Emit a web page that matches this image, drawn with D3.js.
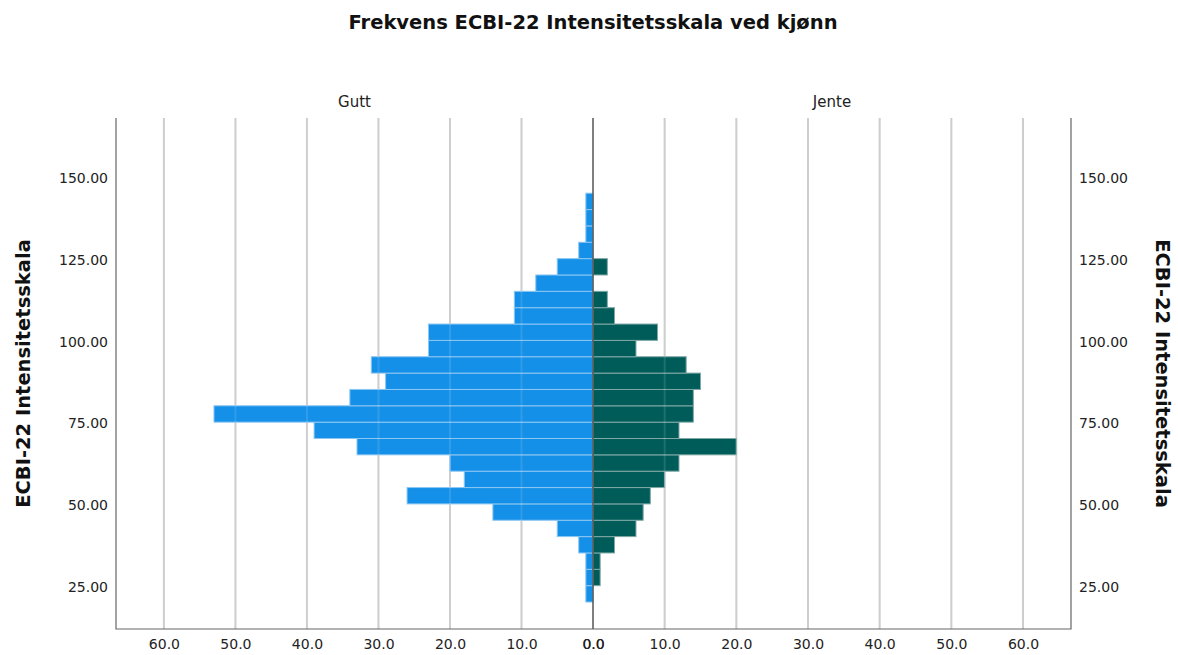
<!DOCTYPE html>
<html>
<head>
<meta charset="utf-8">
<script src="https://cdn.jsdelivr.net/npm/d3@7"></script>
<style>
  body { margin: 0; background: #fff; }
  svg { display: block; font-family: 'DejaVu Sans', sans-serif; }
</style>
</head>
<body>
<div id="chart"></div>
<script>
// Population pyramid - ECBI-22 by gender
// Lower edge of each score bin (width 5)
let binLower = [20.4, 25.4, 30.4, 35.4, 40.4, 45.4, 50.4, 55.4, 60.4, 65.4, 70.4, 75.4, 80.4,
  85.4, 90.4, 95.4, 100.4, 105.4, 110.4, 115.4, 120.4, 125.4, 130.4, 135.4, 140.4];
let binWidth = 5;
// Counts per bin, from lowest score to highest
let gutt = [1, 1, 1, 2, 5, 14, 26, 18, 20, 33, 39, 53, 34, 29, 31, 23, 23, 11, 11, 8, 5, 2, 1, 1, 1];
let jente = [0, 1, 1, 3, 6, 7, 8, 10, 12, 20, 12, 14, 14, 15, 13, 6, 9, 3, 2, 0, 2, 0, 0, 0, 0];
let yTicks = [25, 50, 75, 100, 125, 150];
let xTicks = [0, 10, 20, 30, 40, 50, 60];

let svgwidth = 1178;
let svgheight = 655;
let pLeft = 116, pRight = 1071, pTop = 118, pBottom = 629;
let mid = 593;

let svg = d3.select('#chart')
  .append('svg')
  .attr('width', svgwidth)
  .attr('height', svgheight);

let yscale = d3.scaleLinear().domain([12.15, 168.4]).range([pBottom, pTop]);
let xleft = d3.scaleLinear().domain([0, 66.7]).range([mid, pLeft]);
let xright = d3.scaleLinear().domain([0, 66.7]).range([mid, pRight]);

// Title
svg.append('text')
  .text('Frekvens ECBI-22 Intensitetsskala ved kjønn')
  .attr('x', mid)
  .attr('y', 29)
  .attr('text-anchor', 'middle')
  .attr('font-size', 19.5)
  .attr('font-weight', 'bold')
  .attr('fill', '#111');

// Panel labels
svg.append('text').text('Gutt')
  .attr('x', (pLeft + mid) / 2).attr('y', 107)
  .attr('text-anchor', 'middle').attr('font-size', 15).attr('fill', '#222');
svg.append('text').text('Jente')
  .attr('x', (mid + pRight) / 2).attr('y', 107)
  .attr('text-anchor', 'middle').attr('font-size', 15).attr('fill', '#222');

// Gridlines
let grid = svg.append('g');
[xleft, xright].forEach(function (sc) {
  grid.append('g').selectAll('line')
    .data(xTicks.filter((d) => d > 0))
    .join('line')
    .attr('x1', (d) => sc(d))
    .attr('x2', (d) => sc(d))
    .attr('y1', pTop)
    .attr('y2', pBottom)
    .attr('stroke', '#c8c8c8')
    .attr('stroke-width', 2);
});

// Bars
svg.append('g')
  .selectAll('rect')
  .data(gutt)
  .join('rect')
  .attr('x', (d) => xleft(d))
  .attr('width', (d) => xleft(0) - xleft(d))
  .attr('y', (d, i) => yscale(binLower[i] + binWidth))
  .attr('height', (d, i) => yscale(binLower[i]) - yscale(binLower[i] + binWidth))
  .attr('fill', '#1490e8')
  .attr('stroke', '#8cc6f2')
  .attr('stroke-width', 1)
  .style('display', (d) => (d > 0 ? null : 'none'));

svg.append('g')
  .selectAll('rect')
  .data(jente)
  .join('rect')
  .attr('x', xright(0))
  .attr('width', (d) => xright(d) - xright(0))
  .attr('y', (d, i) => yscale(binLower[i] + binWidth))
  .attr('height', (d, i) => yscale(binLower[i]) - yscale(binLower[i] + binWidth))
  .attr('fill', '#005c59')
  .attr('stroke', '#7fa8a6')
  .attr('stroke-width', 1)
  .style('display', (d) => (d > 0 ? null : 'none'));

// faint gridlines showing through bars
[xleft, xright].forEach(function (sc) {
  svg.append('g').selectAll('line')
    .data(xTicks.filter((d) => d > 0))
    .join('line')
    .attr('x1', (d) => sc(d))
    .attr('x2', (d) => sc(d))
    .attr('y1', pTop)
    .attr('y2', pBottom)
    .attr('stroke', '#ffffff')
    .attr('stroke-opacity', 0.12)
    .attr('stroke-width', 2);
});

// Zero line and frame
svg.append('line')
  .attr('x1', mid).attr('x2', mid).attr('y1', pTop).attr('y2', pBottom)
  .attr('stroke', '#555').attr('stroke-width', 1.5);
svg.append('path')
  .attr('d', `M${pLeft},${pTop}V${pBottom}H${pRight}V${pTop}`)
  .attr('fill', 'none')
  .attr('stroke', '#666')
  .attr('stroke-width', 1.2);

// X axes
let xaxisL = d3.axisBottom(xleft).tickValues(xTicks).tickFormat(d3.format('.1f')).tickSize(0).tickPadding(10);
let xaxisR = d3.axisBottom(xright).tickValues(xTicks).tickFormat(d3.format('.1f')).tickSize(0).tickPadding(10);
[xaxisL, xaxisR].forEach(function (ax) {
  svg.append('g')
    .attr('transform', `translate(0, ${pBottom})`)
    .call(ax)
    .call((g) => g.select('.domain').remove())
    .selectAll('text')
    .attr('font-size', 14)
    .attr('fill', '#222')
    .attr('font-family', 'DejaVu Sans');
});

// Y axes
svg.append('g')
  .attr('transform', `translate(${pLeft}, 0)`)
  .call(d3.axisLeft(yscale).tickValues(yTicks).tickFormat(d3.format('.2f')).tickSize(0).tickPadding(8))
  .call((g) => g.select('.domain').remove())
  .selectAll('text')
  .attr('font-size', 14)
  .attr('fill', '#222')
  .attr('font-family', 'DejaVu Sans');

svg.append('g')
  .attr('transform', `translate(${pRight}, 0)`)
  .call(d3.axisRight(yscale).tickValues(yTicks).tickFormat(d3.format('.2f')).tickSize(0).tickPadding(8))
  .call((g) => g.select('.domain').remove())
  .selectAll('text')
  .attr('font-size', 14)
  .attr('fill', '#222')
  .attr('font-family', 'DejaVu Sans');

// Y axis titles
let ymid = (pTop + pBottom) / 2;
svg.append('text')
  .text('ECBI-22 Intensitetsskala')
  .attr('transform', `translate(30, ${ymid}) rotate(-90)`)
  .attr('text-anchor', 'middle')
  .attr('font-size', 19.5)
  .attr('font-weight', 'bold')
  .attr('fill', '#111');
svg.append('text')
  .text('ECBI-22 Intensitetsskala')
  .attr('transform', `translate(1156, ${ymid}) rotate(90)`)
  .attr('text-anchor', 'middle')
  .attr('font-size', 19.5)
  .attr('font-weight', 'bold')
  .attr('fill', '#111');
</script>
</body>
</html>
